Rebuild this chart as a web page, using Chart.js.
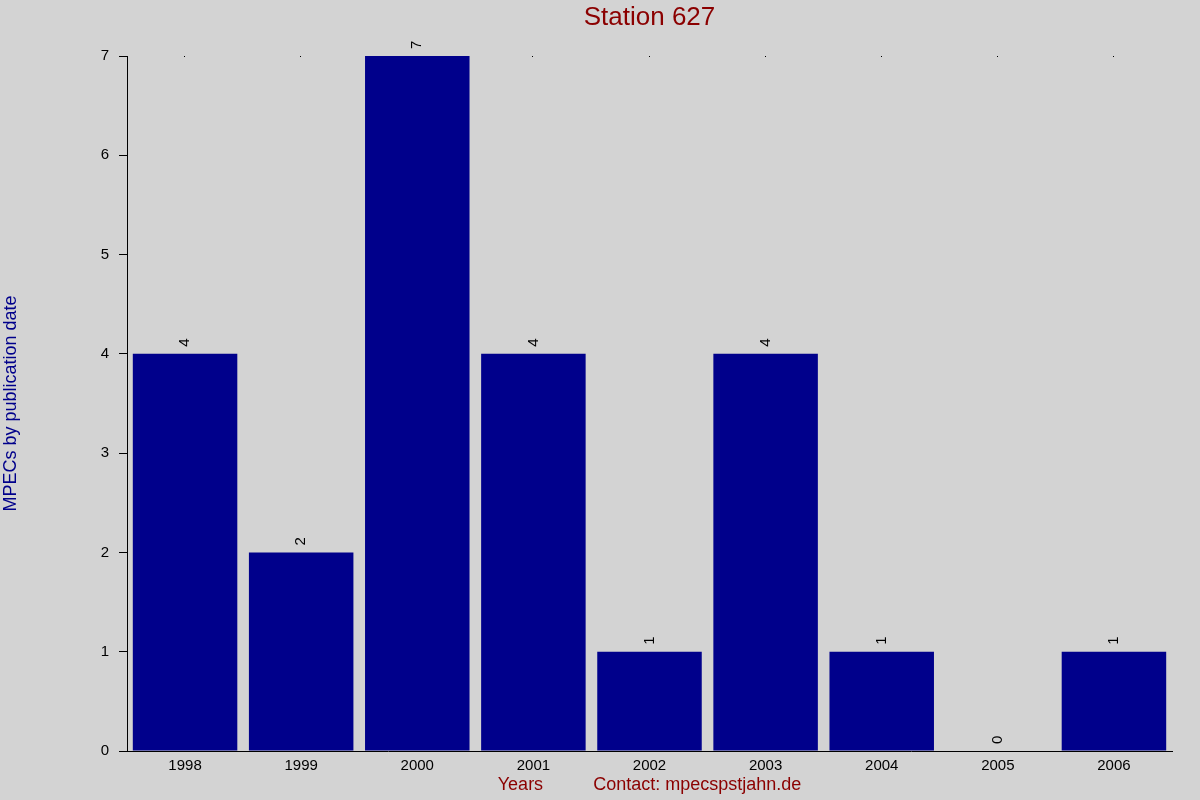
<!DOCTYPE html>
<html>
<head>
<meta charset="utf-8">
<script src="https://cdn.jsdelivr.net/npm/chart.js@4/dist/chart.umd.min.js"></script>
<style>
  body { margin: 0; background: #d3d3d3; }
  canvas { display: block; }
</style>
</head>
<body>
<canvas id="chart" width="1200" height="800"></canvas>
<script>
const years = ['1998', '1999', '2000', '2001', '2002', '2003', '2004', '2005', '2006'];
const mpecs = [4, 2, 7, 4, 1, 4, 1, 0, 1];
const yTicks = [0, 1, 2, 3, 4, 5, 6, 7];
const chartTitle = 'Station 627';

const FONT = '"Liberation Sans", Arial, sans-serif';

// title centred over the plot area, not the whole canvas
const plotTitle = {
  id: 'plotTitle',
  afterDraw(chart) {
    const ctx = chart.ctx;
    const a = chart.chartArea;
    ctx.save();
    ctx.fillStyle = '#8b0000';
    ctx.font = '26px ' + FONT;
    ctx.textAlign = 'center';
    ctx.textBaseline = 'middle';
    ctx.fillText(chartTitle, (a.left + a.right) / 2, 18);
    ctx.restore();
  }
};

// value labels, rotated, just above each bar
const barLabels = {
  id: 'barLabels',
  afterDatasetsDraw(chart) {
    const ctx = chart.ctx;
    const meta = chart.getDatasetMeta(0);
    ctx.save();
    ctx.fillStyle = '#000';
    ctx.font = '15px ' + FONT;
    ctx.textAlign = 'left';
    ctx.textBaseline = 'middle';
    meta.data.forEach((bar, i) => {
      ctx.save();
      ctx.translate(bar.x, bar.y - 7);
      ctx.rotate(-Math.PI / 2);
      ctx.fillText(String(mpecs[i]), 0, 0);
      ctx.restore();
    });
    ctx.restore();
  }
};

// little dots along the top edge at each category
const topDots = {
  id: 'topDots',
  beforeDatasetsDraw(chart) {
    const ctx = chart.ctx;
    const x = chart.scales.x;
    ctx.save();
    ctx.fillStyle = '#000';
    years.forEach((_, i) => {
      ctx.fillRect(Math.round(x.getPixelForValue(i)) - 1, chart.chartArea.top, 1, 1);
    });
    ctx.restore();
  }
};

new Chart(document.getElementById('chart').getContext('2d'), {
  type: 'bar',
  data: {
    labels: years,
    datasets: [{
      data: mpecs,
      backgroundColor: '#00008b',
      borderWidth: 0,
      categoryPercentage: 1,
      barPercentage: 0.9,
    }]
  },
  plugins: [topDots, barLabels, plotTitle],
  options: {
    responsive: false,
    animation: false,
    layout: { padding: { left: 0, right: 28, top: 56, bottom: 0 } },
    plugins: {
      legend: { display: false },
      tooltip: { enabled: false },
      title: { display: false }
    },
    scales: {
      x: {
        grid: { display: false, tickLength: 0 },
        border: { display: true, color: '#000', width: 1 },
        ticks: { color: '#000', font: { family: FONT, size: 15 }, padding: 6, maxRotation: 0 },
        title: {
          display: true,
          text: 'Years          Contact: mpecspstjahn.de',
          color: '#8b0000',
          font: { family: FONT, size: 18 },
          padding: { top: 0, bottom: 4 },
        },
        afterFit(scale) { scale.height = 49; }
      },
      y: {
        min: 0,
        max: 7,
        afterBuildTicks(scale) { scale.ticks = yTicks.map(v => ({ value: v })); },
        grid: { drawOnChartArea: false, color: '#000', tickLength: 8, lineWidth: 1 },
        border: { display: true, color: '#000', width: 1 },
        ticks: { color: '#000', font: { family: FONT, size: 15 }, padding: 10 },
        title: {
          display: true,
          text: 'MPECs by publication date',
          color: '#00008b',
          font: { family: FONT, size: 18 },
          padding: { top: 0, bottom: 0 },
        },
        afterFit(scale) { scale.width = 127; }
      }
    }
  }
});
</script>
</body>
</html>
